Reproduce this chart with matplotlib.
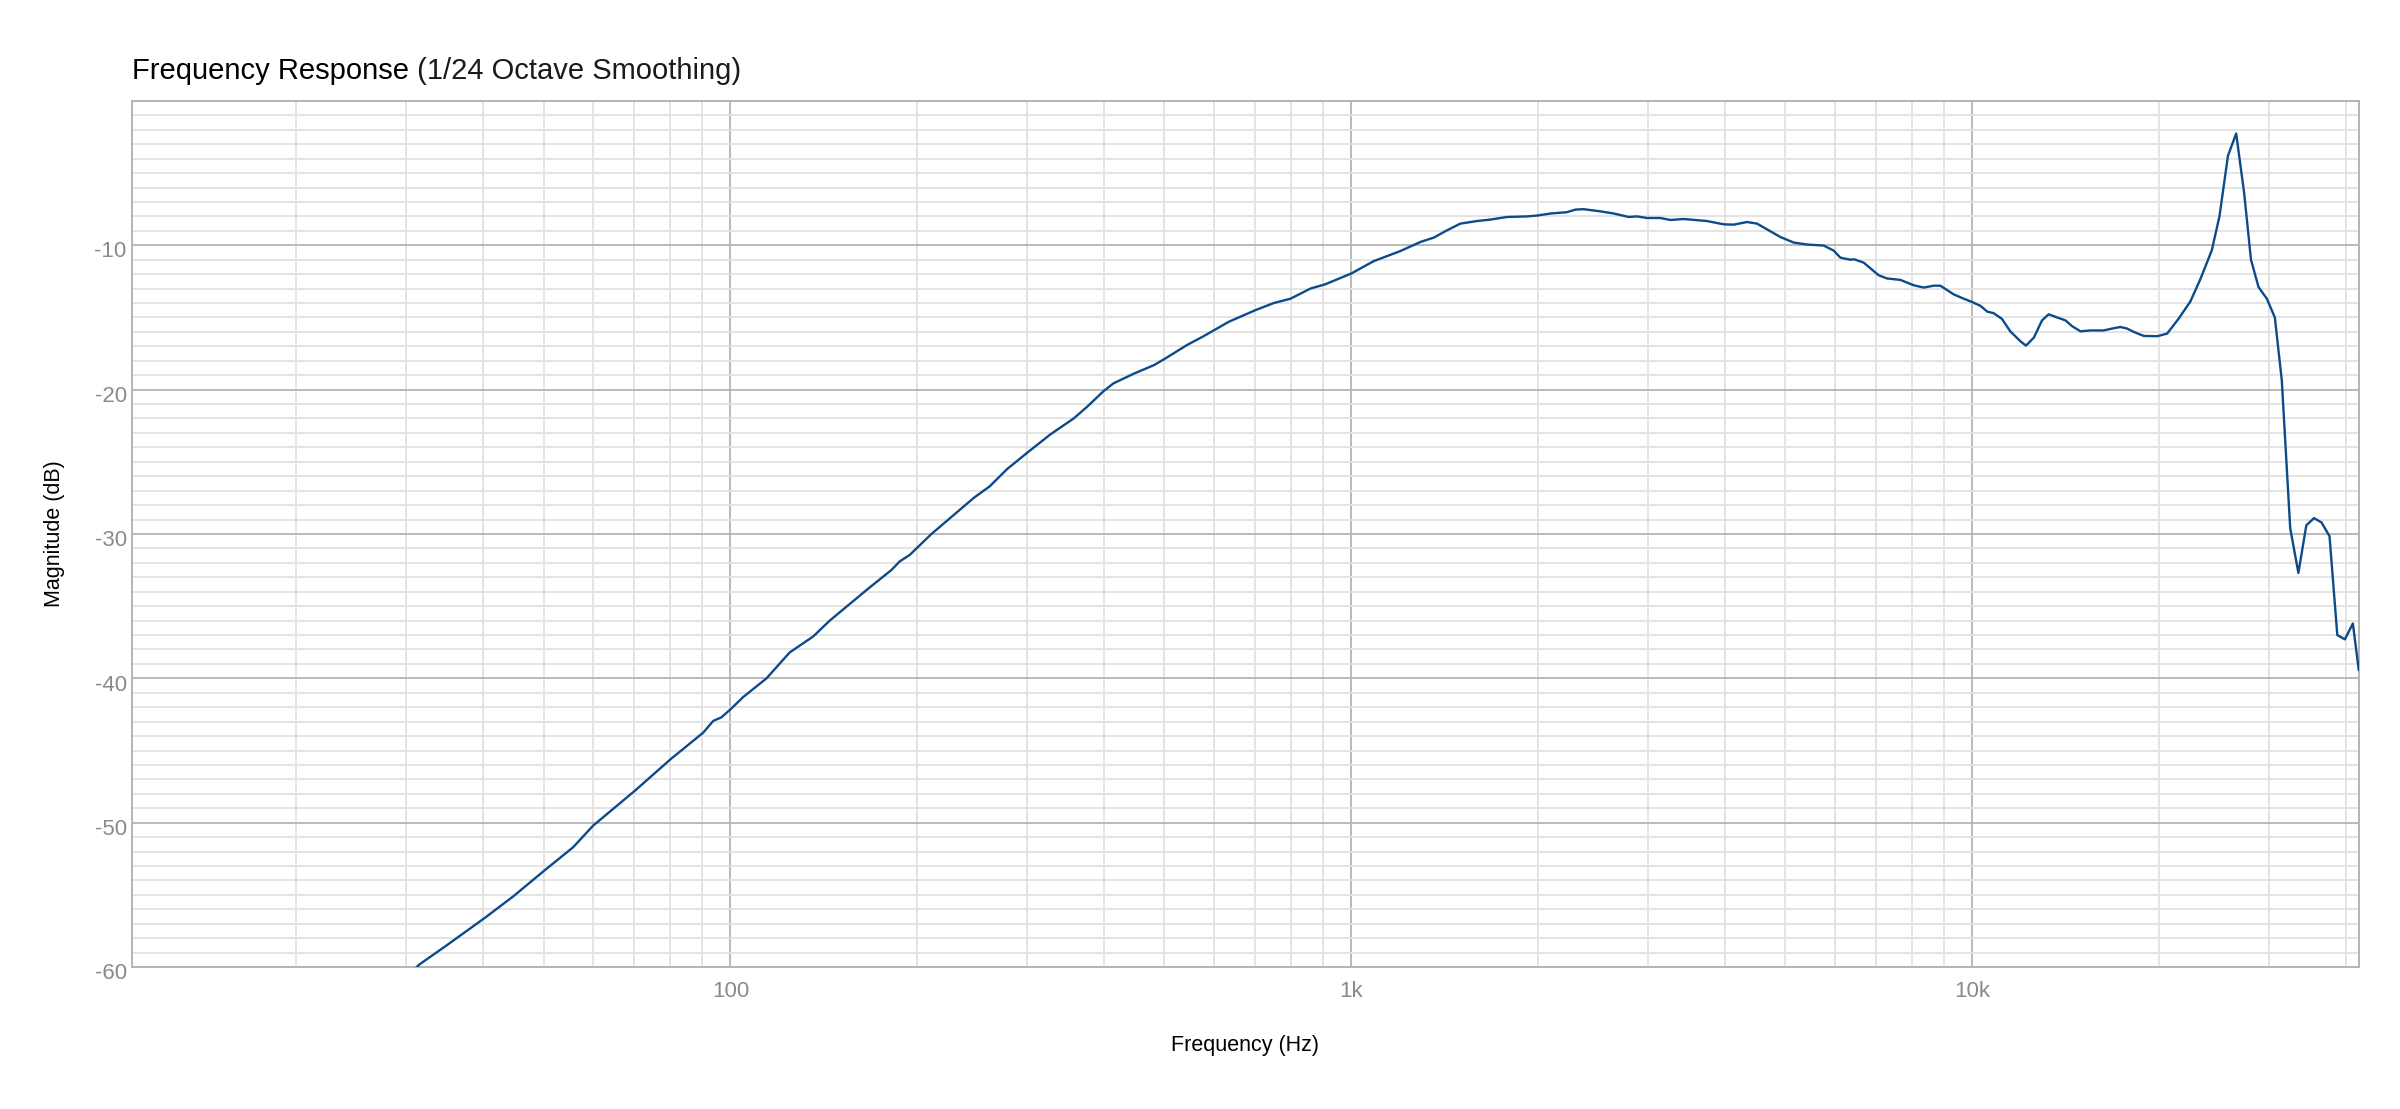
import numpy as np
import matplotlib
matplotlib.use("Agg")
import matplotlib.pyplot as plt
import matplotlib.transforms as mtransforms
from matplotlib.ticker import FixedLocator, NullFormatter

plt.rcParams['font.family'] = ['Liberation Sans', 'DejaVu Sans']
plt.rcParams['axes.unicode_minus'] = False

# frequency response (Hz, dB)
freq_hz = [29.5, 31.6, 34.9, 40.2, 44.7, 50.2, 55.8, 60.1, 70.1, 80.1,
           90.4, 93.8, 96.7, 100, 104.8, 114.3, 124.6, 135.9, 144.5, 167.6,
           181.6, 187.3, 194.4, 210.7, 246.5, 261.5, 279, 300, 327.5, 357,
           375, 399, 414, 446, 481, 499, 544, 578, 600, 634.6,
           700, 750, 798, 859, 908, 1000, 1086, 1199, 1292, 1357,
           1426, 1498, 1594, 1674, 1781, 1919, 1991, 2092, 2223, 2295,
           2366, 2518, 2645, 2797, 2884, 2993, 3145, 3264, 3428, 3738,
           3977, 4128, 4337, 4500, 4670, 4908, 5155, 5418, 5763, 5980,
           6131, 6361, 6447, 6683, 7066, 7290, 7660, 8045, 8349, 8664,
           8882, 9330, 9683, 9953, 10310, 10570, 10820, 11160, 11510, 11950,
           12200, 12560, 12950, 13270, 13690, 14120, 14470, 14930, 15490, 16270,
           16790, 17310, 17750, 18190, 18880, 19840, 20590, 21490, 22440, 23290,
           24300, 25000, 25800, 26600, 27400, 28100, 28900, 29800, 30700, 31500,
           32500, 33500, 34500, 35500, 36500, 37600, 38700, 39800, 41000, 41900]
mag_db = [-61.0, -59.8, -58.5, -56.6, -55.1, -53.3, -51.7, -50.2, -47.8, -45.6,
          -43.76, -42.95, -42.7, -42.15, -41.3, -40.0, -38.2, -37.1, -36.0, -33.7,
          -32.5, -31.9, -31.45, -30.0, -27.5, -26.7, -25.5, -24.4, -23.1, -22.0,
          -21.2, -20.1, -19.56, -18.9, -18.3, -17.9, -16.9, -16.3, -15.9, -15.3,
          -14.5, -14.0, -13.7, -13.0, -12.7, -11.95, -11.1, -10.4, -9.77, -9.47,
          -8.96, -8.5, -8.32, -8.22, -8.04, -8.0, -7.94, -7.8, -7.71, -7.53,
          -7.5, -7.65, -7.8, -8.04, -8.0, -8.11, -8.11, -8.25, -8.18, -8.32,
          -8.55, -8.57, -8.39, -8.5, -8.9, -9.43, -9.81, -9.95, -10.02, -10.37,
          -10.86, -11.0, -10.97, -11.2, -12.08, -12.3, -12.4, -12.77, -12.93, -12.8,
          -12.8, -13.4, -13.7, -13.9, -14.2, -14.6, -14.7, -15.1, -15.96, -16.65,
          -16.95, -16.4, -15.2, -14.78, -15.0, -15.2, -15.6, -15.96, -15.9, -15.9,
          -15.77, -15.66, -15.77, -16.0, -16.28, -16.3, -16.12, -15.08, -13.9, -12.35,
          -10.35, -8.0, -3.8, -2.26, -6.4, -11.0, -12.9, -13.7, -15.0, -19.35,
          -29.6, -32.7, -29.4, -28.9, -29.2, -30.15, -37.0, -37.3, -36.2, -39.4]

x_major = [100, 1000, 10000]
x_major_labels = ['100', '1k', '10k']
x_minor = [20, 30, 40, 50, 60, 70, 80, 90,
           200, 300, 400, 500, 600, 700, 800, 900,
           2000, 3000, 4000, 5000, 6000, 7000, 8000, 9000,
           20000, 30000, 40000]
y_major = [-60, -50, -40, -30, -20, -10]

fig = plt.figure(figsize=(24, 11.09), dpi=100)
ax = fig.add_axes([0.0548, 0.128, 0.928, 0.781])

ax.plot(freq_hz, mag_db, color='#0c4a8a', linewidth=1.7, zorder=3)

ax.set_xscale('log')
ax.set_xlim(10.85, 41900)
ax.set_ylim(-60, 0)

ax.xaxis.set_major_locator(FixedLocator(x_major))
ax.set_xticklabels(x_major_labels)
ax.xaxis.set_minor_locator(FixedLocator(x_minor))
ax.xaxis.set_minor_formatter(NullFormatter())
ax.set_yticks(y_major)
ax.yaxis.set_minor_locator(FixedLocator(np.arange(-59, 0, 1)))

ax.grid(which='major', color='#b4b4b4', linewidth=1.3, zorder=1)
ax.grid(which='minor', color='#e2e2e2', linewidth=1.3, zorder=0)
ax.set_axisbelow(True)

ax.tick_params(which='both', length=0)
ax.tick_params(axis='x', pad=10, labelsize=16, labelcolor='#8a8a8a')
ax.tick_params(axis='y', pad=3.5, labelsize=16, labelcolor='#8a8a8a')

# y labels sit a touch below their grid line in the reference
shift = mtransforms.ScaledTranslation(0, -3 / 72, fig.dpi_scale_trans)
for lab in ax.get_yticklabels():
    lab.set_transform(lab.get_transform() + shift)

for s in ax.spines.values():
    s.set_color('#b4b4b4')
    s.set_linewidth(1.4)

# title, two weights like the reference
t1 = fig.text(131.6 / 2400, 1 - 79 / 1109, 'Frequency Response', fontsize=21,
              color='black', va='baseline', ha='left')
fig.canvas.draw()
bb = t1.get_window_extent()
fig.text(bb.x1 / 2400, 1 - 79 / 1109, ' (1/24 Octave Smoothing)', fontsize=21,
         color='#1a1a1a', va='baseline', ha='left')

fig.text(1245 / 2400, 1 - 1045 / 1109, 'Frequency (Hz)', fontsize=15.5,
         ha='center', va='center', color='black')
fig.text(55 / 2400, 1 - 534 / 1109, 'Magnitude (dB)', fontsize=15.5,
         rotation=90, ha='center', va='center', color='black')

fig.savefig('out.png', dpi=100)
